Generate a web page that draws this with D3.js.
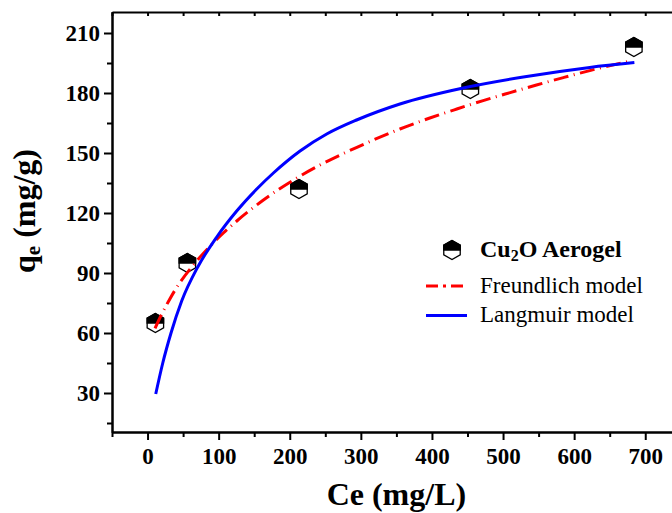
<!DOCTYPE html>
<html>
<head>
<meta charset="utf-8">
<script src="https://cdn.jsdelivr.net/npm/d3@7"></script>
<style>
  html, body { margin: 0; padding: 0; background: #fff; }
  svg { display: block; }
  svg text { font-family: "Liberation Serif", "Times New Roman", serif; fill: #000; }
</style>
</head>
<body>
<svg id="chart" width="672" height="513"></svg>
<script>
// Measured adsorption capacity of the Cu2O aerogel
const ceData = [11, 56, 213, 454, 684];
const qeData = [65, 95, 132, 182, 203];

// Freundlich fit curve (Ce, qe)
const freundCe = [10.5, 20, 29, 38.7, 66.8, 85.5, 106.6, 125.5, 163, 210, 242.6, 280, 317.6, 355, 397, 435, 472, 510, 547, 584.8, 622, 678.6];
const freundQe = [62.3, 69.5, 75.5, 81.5, 95, 102.5, 110, 116, 126.5, 137.5, 144, 150.5, 156.5, 162, 167.5, 172, 176.2, 180.2, 184, 187.7, 191.2, 196];

// Langmuir fit curve (Ce, qe)
const langCe = [11.5, 21.4, 33, 48, 70.6, 97.3, 125.4, 153.6, 177, 214.5, 252, 294, 355, 444, 528.5, 622, 684.7];
const langQe = [29.5, 45, 60, 76, 93, 108, 121, 132, 140, 151, 159.5, 166.5, 174.5, 182.5, 188, 192.8, 195.2];

// Axis ticks
const xMajor = [0, 100, 200, 300, 400, 500, 600, 700];
const xMinor = [-50, 50, 150, 250, 350, 450, 550, 650, 750];
const yMajor = [30, 60, 90, 120, 150, 180, 210];
const yMinor = [15, 45, 75, 105, 135, 165, 195];

const SERIF = '"Liberation Serif", "Times New Roman", serif';
const svg = d3.select("#chart");
const plotL = 112, plotR = 680.8, plotT = 12, plotB = 432;

const x = d3.scaleLinear().domain([-50, 750]).range([plotL, plotR]);
const y = d3.scaleLinear().domain([10.5, 220.5]).range([plotB, plotT]);

// ---- axes ----
function styleAxis(g) {
  g.selectAll("path.domain").attr("stroke", "#000").attr("stroke-width", 2);
  g.selectAll(".tick line").attr("stroke", "#000").attr("stroke-width", 2);
  g.selectAll(".tick text")
    .style("font-family", SERIF)
    .style("font-weight", "bold")
    .style("font-size", "23px")
    .attr("fill", "#000");
}

// bottom
svg.append("g").attr("transform", `translate(0,${plotB})`)
  .call(d3.axisBottom(x).tickValues(xMinor).tickSize(5).tickSizeOuter(0).tickFormat(""))
  .call(styleAxis);
svg.append("g").attr("transform", `translate(0,${plotB})`)
  .call(d3.axisBottom(x).tickValues(xMajor).tickSize(8).tickSizeOuter(0).tickPadding(8).tickFormat(d3.format("d")))
  .call(styleAxis);

// left
svg.append("g").attr("transform", `translate(${plotL},0)`)
  .call(d3.axisLeft(y).tickValues(yMinor).tickSize(5).tickSizeOuter(0).tickFormat(""))
  .call(styleAxis);
svg.append("g").attr("transform", `translate(${plotL},0)`)
  .call(d3.axisLeft(y).tickValues(yMajor).tickSize(8).tickSizeOuter(0).tickPadding(4).tickFormat(d3.format("d")))
  .call(styleAxis);

// top frame with short inward ticks
svg.append("g").attr("transform", `translate(0,${plotT})`)
  .call(d3.axisBottom(x).tickValues(xMajor.concat(xMinor)).tickSize(4).tickSizeOuter(0).tickFormat(""))
  .call(styleAxis);
// right frame
svg.append("g").attr("transform", `translate(${plotR},0)`)
  .call(d3.axisLeft(y).tickValues(yMajor.concat(yMinor)).tickSize(4).tickSizeOuter(0).tickFormat(""))
  .call(styleAxis);

// ---- axis titles ----
svg.append("text")
  .attr("x", (plotL + plotR) / 2).attr("y", 505)
  .attr("text-anchor", "middle")
  .style("font-family", SERIF)
  .style("font-weight", "bold").style("font-size", "32px")
  .text("Ce (mg/L)");

const yTitle = svg.append("text")
  .attr("transform", "translate(35,211) rotate(-90)")
  .attr("text-anchor", "middle")
  .style("font-family", SERIF)
  .style("font-weight", "bold").style("font-size", "32px");
yTitle.append("tspan").text("q");
yTitle.append("tspan").attr("baseline-shift", "-25%").style("font-size", "21px").text("e");
yTitle.append("tspan").text(" (mg/g)");

// ---- markers: hexagon, upper half filled ----
function hexFull(r) {
  const w = r * Math.cos(Math.PI / 6);
  return `M0,${-r}L${w},${-r / 2}L${w},${r / 2}L0,${r}L${-w},${r / 2}L${-w},${-r / 2}Z`;
}
function hexTop(r) {
  const w = r * Math.cos(Math.PI / 6);
  return `M${-w},0L${-w},${-r / 2}L0,${-r}L${w},${-r / 2}L${w},0Z`;
}
function drawMarker(g, cx, cy) {
  const m = g.append("g").attr("transform", `translate(${cx},${cy})`);
  m.append("path").attr("d", hexFull(9.5)).attr("fill", "#fff").attr("stroke", "#000").attr("stroke-width", 1.3);
  m.append("path").attr("d", hexTop(9.5)).attr("fill", "#000").attr("stroke", "#000").attr("stroke-width", 1.3);
}

const pts = svg.append("g");
ceData.forEach((c, i) => drawMarker(pts, x(c), y(qeData[i])));

// ---- model curves ----
const line = d3.line().x(d => x(d[0])).y(d => y(d[1])).curve(d3.curveMonotoneX);
const freund = freundCe.map((c, i) => [c, freundQe[i]]);
const lang = langCe.map((c, i) => [c, langQe[i]]);

svg.append("path").datum(freund)
  .attr("d", line).attr("fill", "none")
  .attr("stroke", "#ff0000").attr("stroke-width", 3)
  .attr("stroke-dasharray", "15,5.5,1,5.5");

svg.append("path").datum(lang)
  .attr("d", line).attr("fill", "none")
  .attr("stroke", "#0000ff").attr("stroke-width", 3);

// ---- legend ----
const lg = svg.append("g");
drawMarker(lg, 452, 250);
const t1 = lg.append("text").attr("x", 480).attr("y", 257)
  .style("font-family", SERIF)
  .style("font-weight", "bold").style("font-size", "24px");
t1.append("tspan").text("Cu");
t1.append("tspan").attr("baseline-shift", "-25%").style("font-size", "16px").text("2");
t1.append("tspan").text("O Aerogel");

lg.append("line").attr("x1", 426).attr("x2", 467).attr("y1", 286).attr("y2", 286)
  .attr("stroke", "#ff0000").attr("stroke-width", 3).attr("stroke-dasharray", "12,5,3,5");
lg.append("text").attr("x", 480).attr("y", 293)
  .style("font-family", SERIF).style("font-size", "23px").text("Freundlich model");

lg.append("line").attr("x1", 426).attr("x2", 467).attr("y1", 315.5).attr("y2", 315.5)
  .attr("stroke", "#0000ff").attr("stroke-width", 3);
lg.append("text").attr("x", 480).attr("y", 322)
  .style("font-family", SERIF).style("font-size", "23px").text("Langmuir model");
</script>
</body>
</html>
